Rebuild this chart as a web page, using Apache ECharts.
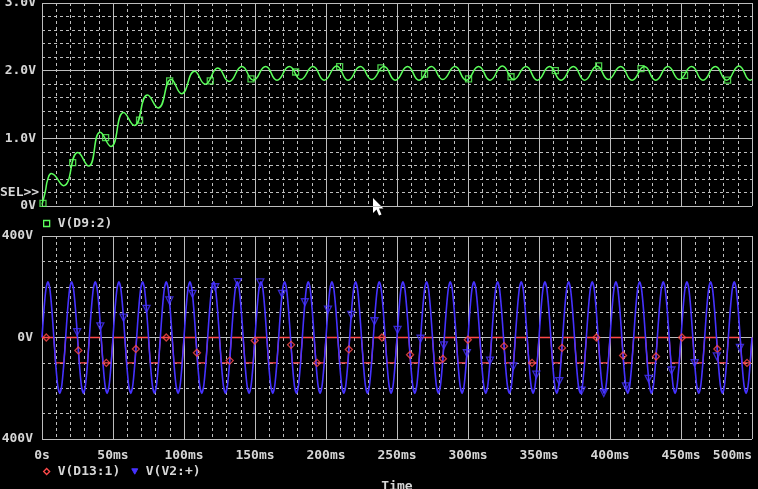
<!DOCTYPE html>
<html>
<head>
<meta charset="utf-8">
<title>Probe</title>
<script src="https://cdn.jsdelivr.net/npm/echarts@6/dist/echarts.min.js"></script>
<style>
  html, body { margin: 0; padding: 0; background: #000; overflow: hidden; }
  #container { width: 758px; height: 489px; }
</style>
</head>
<body>
<div id="container"></div>
<script>
// axis ticks and their labels
const timeTicks = [0, 50, 100, 150, 200, 250, 300, 350, 400, 450, 500];
const timeLabels = ['0s', '50ms', '100ms', '150ms', '200ms', '250ms', '300ms', '350ms', '400ms', '450ms', '500ms'];
const topTicks = [0, 1, 2, 3];
const topLabels = ['0V', '1.0V', '2.0V', '3.0V'];
const bottomTicks = [-400, 0, 400];
const bottomLabels = ['-400V', '0V', '400V'];

// V(V2:+) sampled every 500/360 ms
const sampleStepMs = 500 / 360;
const v2Values = [
  0, 110, 191, 220, 191, 110, 0, -110, -191, -220, -191, -110,
  0, 110, 191, 220, 191, 110, 0, -110, -191, -220, -191, -110,
  0, 110, 191, 220, 191, 110, 0, -110, -191, -220, -191, -110,
  0, 110, 191, 220, 191, 110, 0, -110, -191, -220, -191, -110,
  0, 110, 191, 220, 191, 110, 0, -110, -191, -220, -191, -110,
  0, 110, 191, 220, 191, 110, 0, -110, -191, -220, -191, -110,
  0, 110, 191, 220, 191, 110, 0, -110, -191, -220, -191, -110,
  0, 110, 191, 220, 191, 110, 0, -110, -191, -220, -191, -110,
  0, 110, 191, 220, 191, 110, 0, -110, -191, -220, -191, -110,
  0, 110, 191, 220, 191, 110, 0, -110, -191, -220, -191, -110,
  0, 110, 191, 220, 191, 110, 0, -110, -191, -220, -191, -110,
  0, 110, 191, 220, 191, 110, 0, -110, -191, -220, -191, -110,
  0, 110, 191, 220, 191, 110, 0, -110, -191, -220, -191, -110,
  0, 110, 191, 220, 191, 110, 0, -110, -191, -220, -191, -110,
  0, 110, 191, 220, 191, 110, 0, -110, -191, -220, -191, -110,
  0, 110, 191, 220, 191, 110, 0, -110, -191, -220, -191, -110,
  0, 110, 191, 220, 191, 110, 0, -110, -191, -220, -191, -110,
  0, 110, 191, 220, 191, 110, 0, -110, -191, -220, -191, -110,
  0, 110, 191, 220, 191, 110, 0, -110, -191, -220, -191, -110,
  0, 110, 191, 220, 191, 110, 0, -110, -191, -220, -191, -110,
  0, 110, 191, 220, 191, 110, 0, -110, -191, -220, -191, -110,
  0, 110, 191, 220, 191, 110, 0, -110, -191, -220, -191, -110,
  0, 110, 191, 220, 191, 110, 0, -110, -191, -220, -191, -110,
  0, 110, 191, 220, 191, 110, 0, -110, -191, -220, -191, -110,
  0, 110, 191, 220, 191, 110, 0, -110, -191, -220, -191, -110,
  0, 110, 191, 220, 191, 110, 0, -110, -191, -220, -191, -110,
  0, 110, 191, 220, 191, 110, 0, -110, -191, -220, -191, -110,
  0, 110, 191, 220, 191, 110, 0, -110, -191, -220, -191, -110,
  0, 110, 191, 220, 191, 110, 0, -110, -191, -220, -191, -110,
  0, 110, 191, 220, 191, 110, 0, -110, -191, -220, -191, -110,
  0
];

// V(D13:1): 0V, drops to -100V in the negative half cycles
const d13Times = [0,
  8.33, 9.58, 15.42, 16.67,  25.00, 26.25, 32.08, 33.33,  41.67, 42.92, 48.75, 50.00,
  58.33, 59.58, 65.42, 66.67,  75.00, 76.25, 82.08, 83.33,  91.67, 92.92, 98.75, 100.00,
  108.33, 109.58, 115.42, 116.67,  125.00, 126.25, 132.08, 133.33,  141.67, 142.92, 148.75, 150.00,
  158.33, 159.58, 165.42, 166.67,  175.00, 176.25, 182.08, 183.33,  191.67, 192.92, 198.75, 200.00,
  208.33, 209.58, 215.42, 216.67,  225.00, 226.25, 232.08, 233.33,  241.67, 242.92, 248.75, 250.00,
  258.33, 259.58, 265.42, 266.67,  275.00, 276.25, 282.08, 283.33,  291.67, 292.92, 298.75, 300.00,
  308.33, 309.58, 315.42, 316.67,  325.00, 326.25, 332.08, 333.33,  341.67, 342.92, 348.75, 350.00,
  358.33, 359.58, 365.42, 366.67,  375.00, 376.25, 382.08, 383.33,  391.67, 392.92, 398.75, 400.00,
  408.33, 409.58, 415.42, 416.67,  425.00, 426.25, 432.08, 433.33,  441.67, 442.92, 448.75, 450.00,
  458.33, 459.58, 465.42, 466.67,  475.00, 476.25, 482.08, 483.33,  491.67, 492.92, 498.75, 500.00
];
const d13Values = [0,
  0, -100, -100, 0,  0, -100, -100, 0,  0, -100, -100, 0,
  0, -100, -100, 0,  0, -100, -100, 0,  0, -100, -100, 0,
  0, -100, -100, 0,  0, -100, -100, 0,  0, -100, -100, 0,
  0, -100, -100, 0,  0, -100, -100, 0,  0, -100, -100, 0,
  0, -100, -100, 0,  0, -100, -100, 0,  0, -100, -100, 0,
  0, -100, -100, 0,  0, -100, -100, 0,  0, -100, -100, 0,
  0, -100, -100, 0,  0, -100, -100, 0,  0, -100, -100, 0,
  0, -100, -100, 0,  0, -100, -100, 0,  0, -100, -100, 0,
  0, -100, -100, 0,  0, -100, -100, 0,  0, -100, -100, 0,
  0, -100, -100, 0,  0, -100, -100, 0,  0, -100, -100, 0
];

// V(D9:2): peaks and troughs of the charging ripple
const d9Times = [0, 2.3, 4, 6.5, 15.2, 25.3, 32.8, 41, 48.5, 57.5, 65, 74.3, 81.8, 91, 98.3,
  107.5, 115, 123.8, 131.8, 140.8, 148.8, 157.5, 165.5, 174.2, 182.2, 190.8, 198.8,
  207.5, 215.5, 224.2, 232.2, 240.8, 248.8, 257.5, 265.5, 274.2, 282.2, 290.8, 298.8,
  307.5, 315.5, 324.2, 332.2, 340.8, 348.8, 357.5, 365.5, 374.2, 382.2, 390.8, 398.8,
  407.5, 415.5, 424.2, 432.2, 440.8, 448.8, 457.5, 465.5, 474.2, 482.2, 490.8, 498.8, 500];
const d9Values = [0.02, 0.21, 0.39, 0.48, 0.30, 0.79, 0.59, 1.09, 0.88, 1.38, 1.19, 1.64, 1.45, 1.87, 1.66,
  1.99, 1.80, 2.04, 1.84, 2.06, 1.86, 2.06, 1.86, 2.06, 1.87, 2.06, 1.86,
  2.07, 1.86, 2.06, 1.87, 2.06, 1.86, 2.06, 1.86, 2.06, 1.87, 2.06, 1.86,
  2.06, 1.86, 2.07, 1.87, 2.06, 1.86, 2.06, 1.86, 2.06, 1.86, 2.07, 1.87,
  2.06, 1.86, 2.06, 1.86, 2.06, 1.87, 2.06, 1.86, 2.06, 1.86, 2.07, 1.86, 1.87];

// probe markers
const d9MarkTimes = [0.7, 21.6, 44.8, 68.7, 89.9, 118.5, 147.2, 178.6, 209.6, 238.7, 269.4, 300.4, 330.3, 361.5, 392.0, 421.8, 452.5, 482.8];
const d9MarkValues = [0.04, 0.64, 1.01, 1.27, 1.85, 1.85, 1.88, 1.98, 2.06, 2.04, 1.95, 1.88, 1.91, 2.0, 2.07, 2.03, 1.93, 1.86];
const d13MarkTimes = [3.0, 25.6, 45.3, 66.1, 87.5, 109.1, 132.2, 149.8, 175.4, 193.7, 216.1, 239.4, 259.2, 282.3, 299.9, 325.4, 345.1, 366.2, 390.4, 409.2, 432.4, 450.7, 475.6, 496.5];
const d13MarkValues = [0, -51, -100, -45, 0, -60, -91, -12, -29, -100, -47, 0, -68, -84, -9, -34, -100, -41, 0, -71, -75, 0, -45, -100];
const v2MarkTimes = [24.75, 41.1, 57.4, 73.6, 89.7, 106.0, 122.0, 137.9, 153.7, 169.0, 185.1, 201.4, 217.8, 234.1, 250.4, 266.6, 283.0, 299.2, 315.5, 331.9, 348.1, 364.3, 380.0, 395.6, 411.2, 427.2, 443.3, 459.6, 475.2, 491.5];
const v2MarkValues = [21, 44, 78, 113, 146, 172, 198, 218, 217, 172, 139, 110, 89, 64, 30, -5, -31, -62, -91, -114, -146, -172, -209, -219, -193, -163, -130, -101, -74, -41];

const GREEN = '#5cff5c';
const RED = '#ff4a4a';
const BLUE = '#4632ff';
const GRIDC = '#bdbdbd';
const TXT = '#d6d6d6';
const FONT = 'DejaVu Sans Mono';

const zip = (xs, ys) => xs.map((x, i) => [x, ys[i]]);
const labelFrom = (ticks, labels) => v => {
  const i = ticks.indexOf(v);
  return i < 0 ? '' : labels[i];
};
const txt = {color: TXT, fontFamily: FONT, fontSize: 13, fontWeight: 'bold'};

let container = echarts.init(document.querySelector('#container'));

const xBase = {
  type: 'value', min: 0, max: 500, interval: 50,
  axisLine: {show: false},
  splitLine: {show: true, lineStyle: {color: GRIDC, width: 1}},
  minorTick: {show: false, splitNumber: 5},
  minorSplitLine: {show: true, lineStyle: {color: GRIDC, width: 1, type: [3, 3]}}
};

container.setOption({
  backgroundColor: '#000',
  animation: false,
  grid: [
    {left: 42, right: 6, top: 3, height: 203, outerBoundsMode: 'none'},
    {left: 42, right: 6, top: 236, height: 203, outerBoundsMode: 'none'}
  ],
  xAxis: [
    Object.assign({gridIndex: 0, axisLabel: {show: false}, axisTick: {show: false}}, xBase),
    Object.assign({
      gridIndex: 1,
      axisTick: {show: true, length: 5, lineStyle: {color: GRIDC}},
      axisLabel: Object.assign({
        show: true, margin: 10, alignMaxLabel: 'right',
        formatter: labelFrom(timeTicks, timeLabels)
      }, txt),
      name: 'Time', nameLocation: 'middle', nameGap: 41,
      nameTextStyle: txt
    }, xBase)
  ],
  yAxis: [
    {
      gridIndex: 0, type: 'value', min: 0, max: 3, interval: 1,
      axisLine: {show: false}, axisTick: {show: false},
      axisLabel: Object.assign({margin: 6, formatter: labelFrom(topTicks, topLabels)}, txt),
      splitLine: {lineStyle: {color: GRIDC, width: 1}},
      minorTick: {show: false, splitNumber: 5},
      minorSplitLine: {show: true, lineStyle: {color: GRIDC, width: 1, type: [3, 3]}}
    },
    {
      gridIndex: 1, type: 'value', min: -400, max: 400, interval: 400,
      axisLine: {show: false}, axisTick: {show: false},
      axisLabel: Object.assign({margin: 9, formatter: labelFrom(bottomTicks, bottomLabels)}, txt),
      splitLine: {lineStyle: {color: GRIDC, width: 1}},
      minorTick: {show: false, splitNumber: 4},
      minorSplitLine: {show: true, lineStyle: {color: GRIDC, width: 1, type: [3, 3]}}
    }
  ],
  legend: [
    {
      left: 43, top: 217, padding: 0, itemWidth: 6, itemHeight: 6, itemGap: 20,
      textStyle: Object.assign({padding: [0, 0, 0, 3]}, txt),
      data: [{name: 'V(D9:2)', icon: 'rect',
        itemStyle: {color: 'rgba(0,0,0,0)', borderColor: GREEN, borderWidth: 1.3}}]
    },
    {
      left: 43, top: 465, padding: 0, itemWidth: 6, itemHeight: 6, itemGap: 11,
      textStyle: Object.assign({padding: [0, 0, 0, 3]}, txt),
      data: [
        {name: 'V(D13:1)', icon: 'diamond',
          itemStyle: {color: 'rgba(0,0,0,0)', borderColor: RED, borderWidth: 1.3}},
        {name: 'V(V2:+)', icon: 'path://M0,0 L10,0 L5,9 Z',
          itemStyle: {color: BLUE, borderColor: BLUE, borderWidth: 1}}
      ]
    }
  ],
  graphic: [
    {type: 'text', left: 0, top: 186,
      style: {text: 'SEL>>', fill: TXT, font: 'bold 13px "DejaVu Sans Mono"'}},
    {type: 'polygon', x: 373, y: 198,
      shape: {points: [[0, 0], [0, 15], [3.5, 11.5], [6, 17.5], [8.5, 16.5], [6, 10.5], [10.5, 10.5]]},
      style: {fill: '#ffffff'}}
  ],
  series: [
    {
      name: 'V(D9:2)', type: 'line', xAxisIndex: 0, yAxisIndex: 0,
      data: zip(d9Times, d9Values), smooth: 0.5, showSymbol: false,
      lineStyle: {color: GREEN, width: 1.5}, itemStyle: {color: GREEN}
    },
    {
      name: 'V(D9:2)', type: 'scatter', xAxisIndex: 0, yAxisIndex: 0,
      data: zip(d9MarkTimes, d9MarkValues), symbol: 'rect', symbolSize: 6,
      itemStyle: {color: 'rgba(0,0,0,0)', borderColor: GREEN, borderWidth: 1.3}, z: 5
    },
    {
      name: 'V(D13:1)', type: 'line', xAxisIndex: 1, yAxisIndex: 1,
      data: zip(d13Times, d13Values), showSymbol: false,
      lineStyle: {color: RED, width: 1.3}, itemStyle: {color: RED}
    },
    {
      name: 'V(V2:+)', type: 'line', xAxisIndex: 1, yAxisIndex: 1,
      data: v2Values.map((v, i) => [i * sampleStepMs, v]), smooth: 0.2, showSymbol: false,
      lineStyle: {color: BLUE, width: 1.6}, itemStyle: {color: BLUE}
    },
    {
      name: 'V(D13:1)', type: 'scatter', xAxisIndex: 1, yAxisIndex: 1,
      data: zip(d13MarkTimes, d13MarkValues), symbol: 'diamond', symbolSize: 7,
      itemStyle: {color: 'rgba(0,0,0,0)', borderColor: RED, borderWidth: 1.3}, z: 5
    },
    {
      name: 'V(V2:+)', type: 'scatter', xAxisIndex: 1, yAxisIndex: 1,
      data: zip(v2MarkTimes, v2MarkValues), symbol: 'triangle', symbolRotate: 180, symbolSize: 7,
      itemStyle: {color: 'rgba(0,0,0,0)', borderColor: BLUE, borderWidth: 1.3}, z: 5
    }
  ]
});
</script>
</body>
</html>
